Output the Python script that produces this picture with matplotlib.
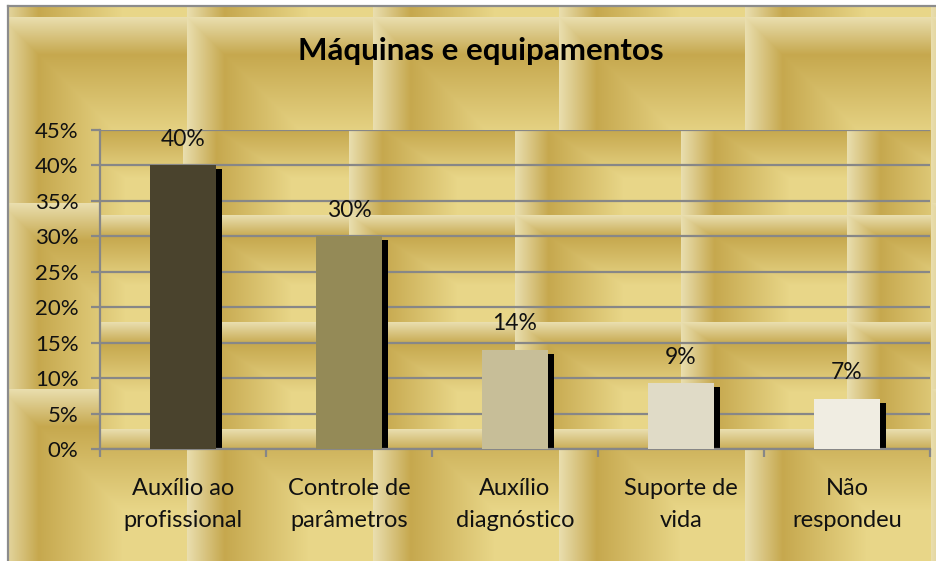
import numpy as np
import matplotlib
matplotlib.use("Agg")
import matplotlib.pyplot as plt
from matplotlib.ticker import MultipleLocator, FuncFormatter, FixedLocator
import matplotlib.transforms as mtransforms

# ---- data ----
categories = ["Auxílio ao\nprofissional", "Controle de\nparâmetros", "Auxílio\ndiagnóstico",
              "Suporte de\nvida", "Não\nrespondeu"]
values = [40, 30, 14, 9.3, 7.1]
bar_colors = ["#4A432D", "#948A57", "#C7BE98", "#E0DBC7", "#F0EDE2"]
title = "Máquinas e equipamentos"

W, H = 937, 561
DPI = 100
plt.rcParams['font.family'] = ['Lato', 'DejaVu Sans']

# plot-area pixel box (x from left, y from top)
PX0, PX1, PY0, PY1 = 100, 930, 130, 449

# ---- procedural gold bevel texture ----
cream = np.array([233, 222, 174]) / 255
gold = np.array([198, 168, 78]) / 255
yellow = np.array([232, 214, 136]) / 255


def texture(X, Y, x0, y0, Tx, Ty, B=0.2):
    u = ((X - x0) % Tx) / Tx
    v = ((Y - y0) % Ty) / Ty
    a = np.clip((np.minimum(u, v) - B) / 0.45, 0, 1)
    img = gold[None, None, :] * (1 - a[..., None]) + yellow[None, None, :] * a[..., None]
    left = (u < B) & (u <= v)
    top = (v < B) & (v < u)
    tl = np.clip(u / B, 0, 1)
    tt = np.clip(v / B, 0, 1)
    lc = cream[None, None, :] * (1 - tl[..., None]) + gold[None, None, :] * tl[..., None]
    tc = cream[None, None, :] * (1 - tt[..., None]) + gold[None, None, :] * tt[..., None]
    img = np.where(left[..., None], lc, img)
    img = np.where(top[..., None], tc, img)
    return img

Y, X = np.mgrid[0:H, 0:W].astype(float)
bg = texture(X, Y, 1, 17, 186, 186)
inside = (X >= PX0) & (X <= PX1) & (Y >= PY0) & (Y <= PY1)
pt = texture(X, Y, 183, 108, 166, 107)
bg = np.where(inside[..., None], pt, bg)
white = (X < 8) | (Y < 6)
bg = np.where(white[..., None], 1.0, bg)

fig = plt.figure(figsize=(W / DPI, H / DPI), dpi=DPI)
bax = fig.add_axes([0, 0, 1, 1], zorder=0)
bax.imshow(bg, extent=(0, W, H, 0), aspect='auto', interpolation='nearest')
bax.plot([8, 8], [6, H], color="#8C8C8C", lw=1.6)
bax.plot([8, W], [6, 6], color="#8C8C8C", lw=1.6)
bax.set_xlim(0, W)
bax.set_ylim(H, 0)
bax.axis('off')

ax = fig.add_axes([PX0 / W, 1 - PY1 / H, (PX1 - PX0) / W, (PY1 - PY0) / H], zorder=1)
ax.patch.set_alpha(0)

x = np.arange(len(categories))
shadow_tr = mtransforms.offset_copy(ax.transData, fig=fig, x=6, y=-4, units='dots')
ax.bar(x, values, width=0.4, color="black", transform=shadow_tr, zorder=2)
ax.bar(x, values, width=0.4, color=bar_colors, zorder=3)

for xi, v in zip(x, values):
    ax.annotate(f"{v:.0f}%", (xi, v), xytext=(0, 26), textcoords='offset pixels',
                ha='center', va='center', fontsize=16.5, color='#111111', zorder=4)

ax.set_xlim(-0.5, len(categories) - 0.5)
ax.set_ylim(0, 45)
ax.yaxis.set_major_locator(MultipleLocator(5))
ax.yaxis.set_major_formatter(FuncFormatter(lambda v, p: f"{v:.0f}%"))
ax.grid(axis='y', color="#878787", lw=1.6, zorder=1)
ax.set_axisbelow(True)

ax.set_xticks(x)
ax.set_xticklabels(categories, fontsize=17, linespacing=1.65, color='#111111')
ax.xaxis.set_minor_locator(FixedLocator(np.arange(-0.5, len(categories), 1.0)))
ax.tick_params(axis='x', which='major', length=0, pad=21)
ax.tick_params(axis='x', which='minor', length=6, width=1.6, color="#878787")
ax.tick_params(axis='y', length=6.5, width=1.6, color="#878787", pad=9,
               labelsize=16, labelcolor='#111111')

for s in ['top', 'right']:
    ax.spines[s].set_visible(False)
for s in ['left', 'bottom']:
    ax.spines[s].set_color("#878787")
    ax.spines[s].set_linewidth(1.6)

fig.text(481 / W, 1 - 51 / H, title, ha='center', va='center', fontsize=22.5,
         fontweight='bold', color='black')

fig.savefig("out.png", dpi=DPI)
